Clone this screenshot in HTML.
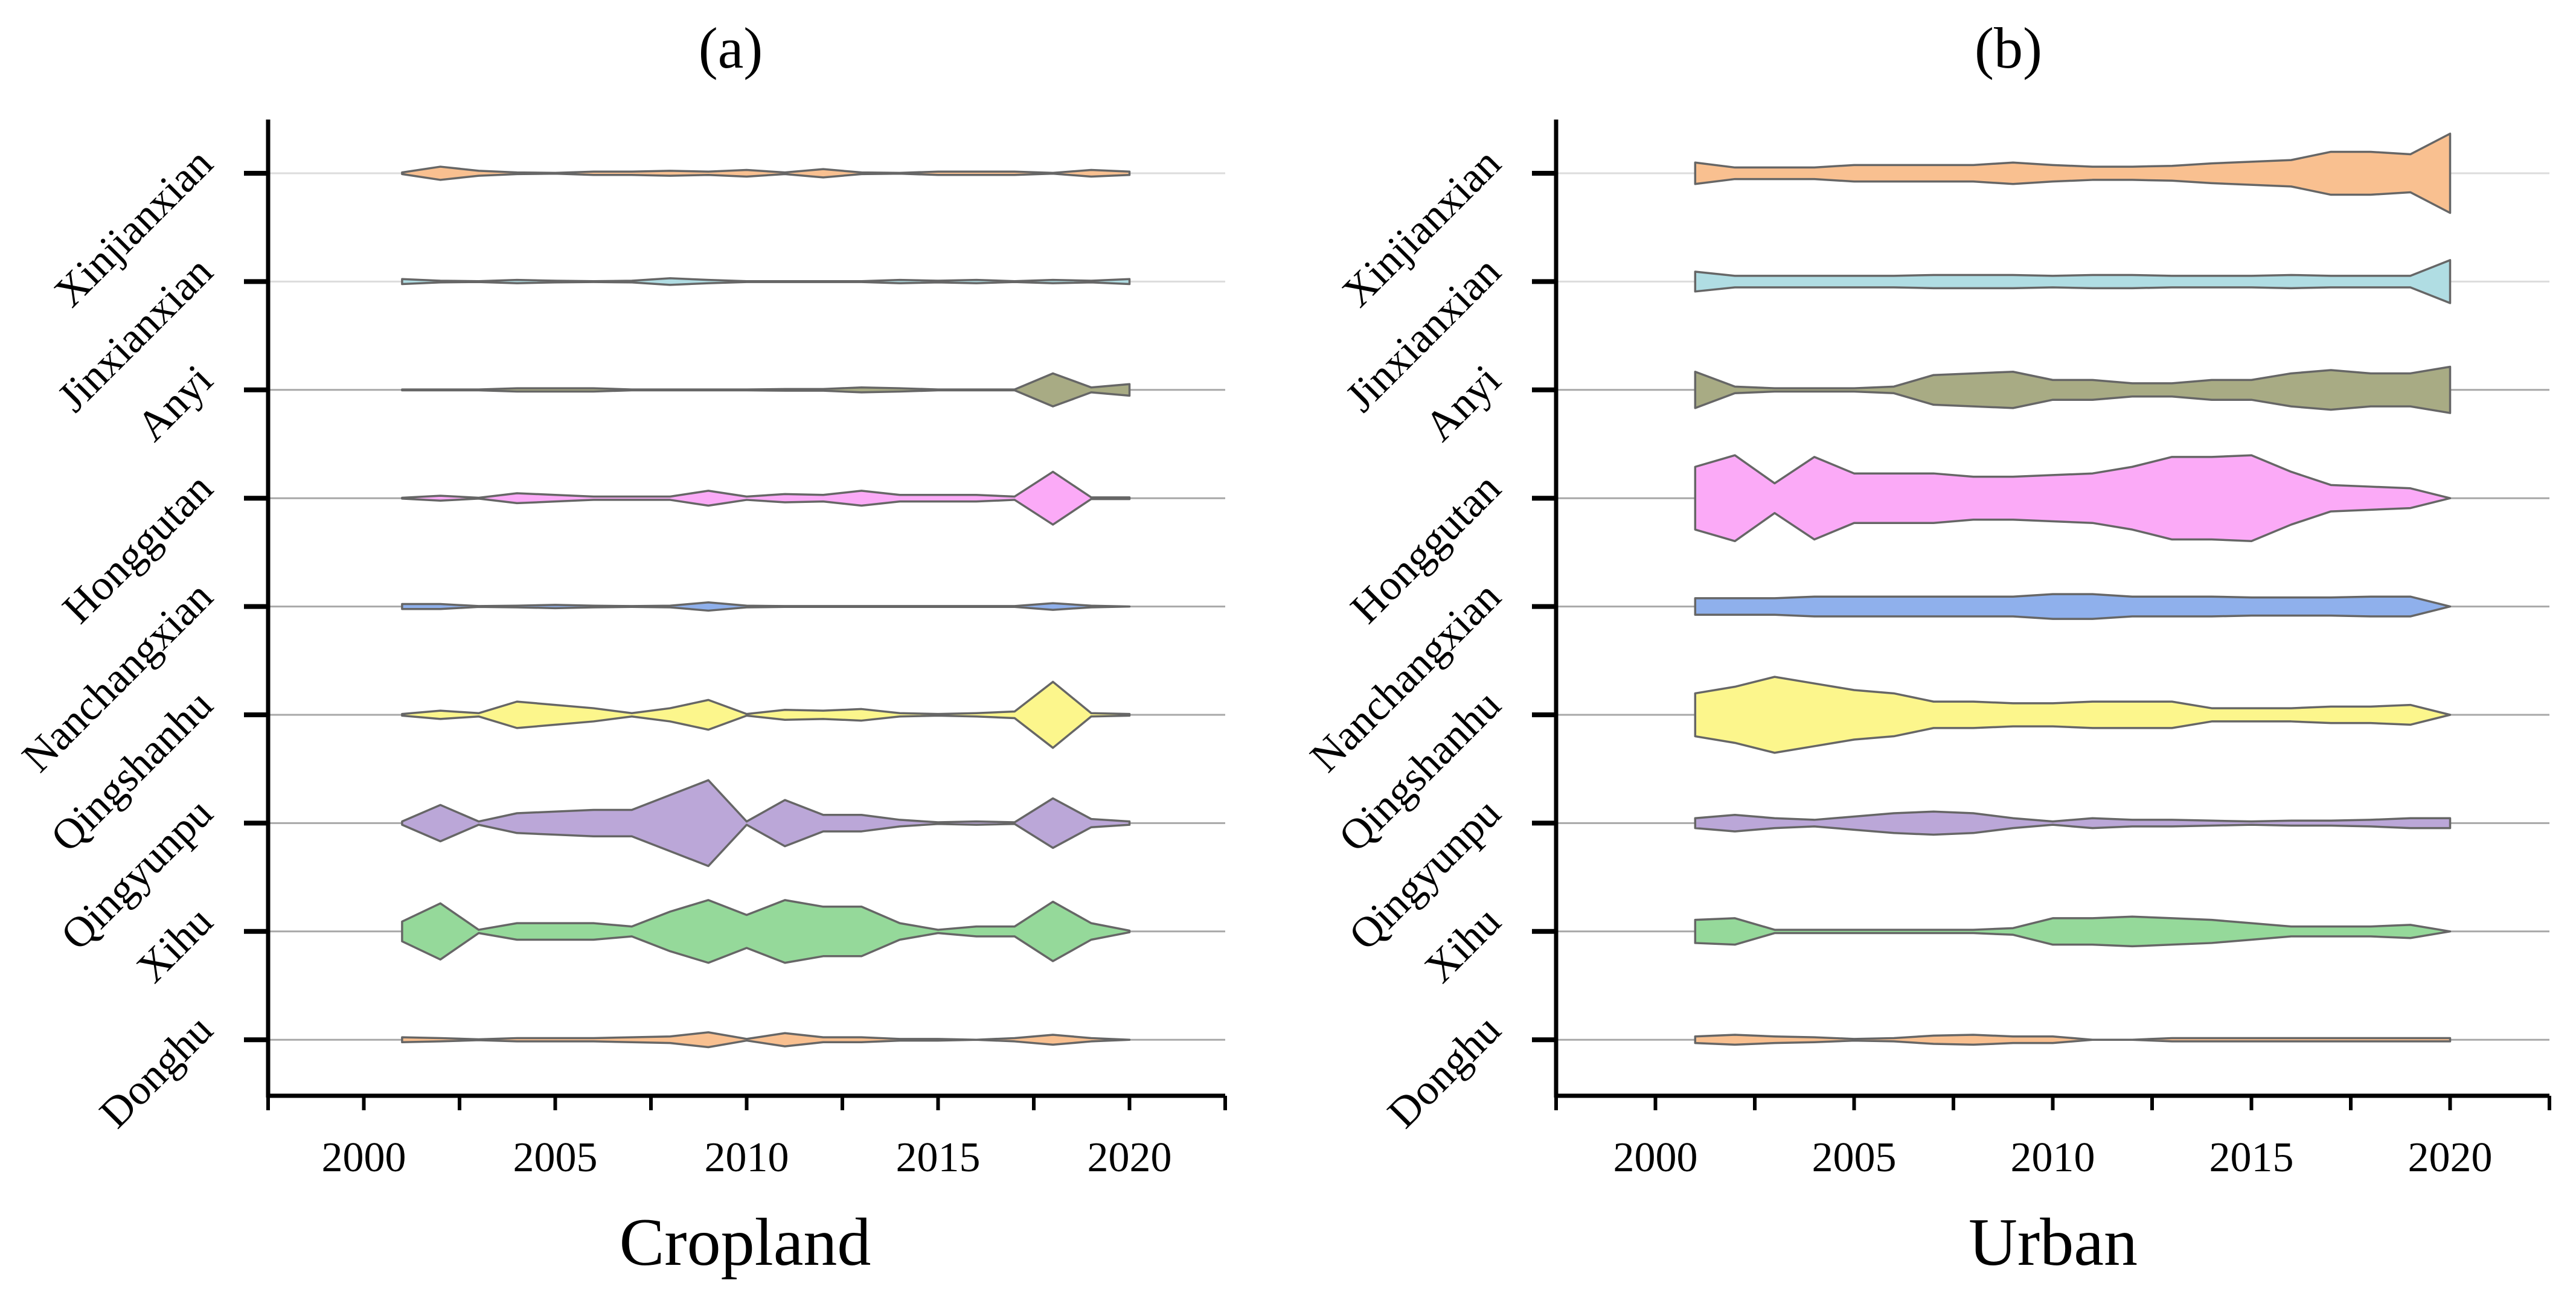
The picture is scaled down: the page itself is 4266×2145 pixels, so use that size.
<!DOCTYPE html>
<html><head><meta charset="utf-8">
<style>
html,body{margin:0;padding:0;background:#fff;}
svg{display:block;font-family:"Liberation Serif",serif;}
</style></head>
<body>
<svg id="chart" width="4266" height="2145" viewBox="0 0 4266 2145" xmlns="http://www.w3.org/2000/svg"></svg>
<script>
const categories = ["Xinjianxian","Jinxianxian","Anyi","Honggutan","Nanchangxian","Qingshanhu","Qingyunpu","Xihu","Donghu"];
const years = [2001,2002,2003,2004,2005,2006,2007,2008,2009,2010,2011,2012,2013,2014,2015,2016,2017,2018,2019,2020];
const xTickLabels = [2000,2005,2010,2015,2020];
const colors = ["#f9c090","#b0dde3","#a8ab84","#fbaaf7","#8fb0ec","#fcf68c","#bba7d8","#95d99a","#f9c090"];
// half-widths (relative units)
const croplandXinjianxian = [1,8,3,1,0.5,2,2,3,2,4,1,5,1,0.5,2,2,2,0.5,4,2];
const croplandJinxianxian = [3,1,0.5,2,1,0.5,1,4,2,0.5,0.5,0.5,0.5,2,1,2,0.5,2,1,3];
const croplandAnyi = [0.5,0.5,0.5,2,2,2,0.5,0.5,0.5,0.5,1,1,3,2,0.5,0.5,0.5,20,3,7];
const croplandHonggutan = [0.5,3,0.5,6,4,2,2,2,9,2,5,4,9,4,4,4,2,32,1,1];
const croplandNanchangxian = [3,3,0.5,1,2,1,0.5,1,5,1,0.5,0.5,0.5,0.5,0.5,0.5,0.5,4,1,0];
const croplandQingshanhu = [1,5,2,16,12,8,2,8,18,1,6,5,7,2,1,2,4,40,2,1];
const croplandQingyunpu = [2,22,2,12,14,16,16,34,52,2,28,10,10,4,1,2,1,30,5,2];
const croplandXihu = [12,34,2,10,10,10,6,24,38,20,38,30,30,10,2,6,6,36,10,1];
const croplandDonghu = [3,2,0.5,2,2,2,3,4,9,1,8,3,3,1,1,0,2,6,2,0];
const urbanXinjianxian = [13,7,7,7,10,10,10,10,13,10,8,8,9,12,14,16,26,26,23,48];
const urbanJinxianxian = [12,7,7,7,7,7,8,8,8,7,8,8,7,7,7,8,7,7,7,26];
const urbanAnyi = [22,4,2,2,2,4,18,20,22,12,12,8,8,12,12,20,24,20,20,28];
const urbanHonggutan = [38,52,18,50,30,30,30,26,26,28,30,38,50,50,52,32,16,14,12,0];
const urbanNanchangxian = [10,10,10,12,12,12,12,12,12,15,15,12,12,12,11,11,11,12,12,0];
const urbanQingshanhu = [26,34,46,38,30,26,16,16,14,14,16,16,16,8,8,8,10,10,12,0];
const urbanQingyunpu = [6,10,6,4,8,12,14,12,6,2,6,4,4,3,2,3,3,4,6,6];
const urbanXihu = [14,16,2,2,2,2,2,2,4,16,16,18,16,14,10,6,6,6,8,0];
const urbanDonghu = [4,6,4,3,1,2,5,6,4,4,0,0,2,2,2,2,2,2,2,2];

const cropland = [croplandXinjianxian,croplandJinxianxian,croplandAnyi,croplandHonggutan,croplandNanchangxian,croplandQingshanhu,croplandQingyunpu,croplandXihu,croplandDonghu];
const urban = [urbanXinjianxian,urbanJinxianxian,urbanAnyi,urbanHonggutan,urbanNanchangxian,urbanQingshanhu,urbanQingyunpu,urbanXihu,urbanDonghu];

const NS="http://www.w3.org/2000/svg";
const svg=document.getElementById('chart');
function mk(tag,attrs,parent){const e=document.createElementNS(NS,tag);for(const k in attrs)e.setAttribute(k,attrs[k]);(parent||svg).appendChild(e);return e;}

function panel(cfg){
  const g=mk('g',{});
  
  
  const x0=cfg.left,x1=cfg.right,yTop=198,yBot=1815;
  const xs=y=>x0+(y-1997.5)/25*(x1-x0);
  const rowY=i=>287+i*179.4;
  const w=v=>v*1.367;
  categories.forEach((c,i)=>{
    const l=mk('line',{x1:x0,x2:x1,y1:rowY(i),y2:rowY(i),stroke:i<2?'#dcdcdc':'#a8a8a8','stroke-width':3},g);
    
    
  });
  cfg.data.forEach((arr,i)=>{
    const cy=rowY(i);
    let top=[],bot=[];
    arr.forEach((v,j)=>{top.push(xs(years[j])+','+(cy-w(v)));bot.unshift(xs(years[j])+','+(cy+w(v)));});
    const p=mk('polygon',{points:top.concat(bot).join(' '),fill:colors[i],stroke:'#666','stroke-width':3.5,'stroke-linejoin':'round'},g);
    
    
  });
  const ya=mk('line',{x1:x0,x2:x0,y1:yTop,y2:yBot+3,stroke:'#000','stroke-width':7},g);
  
  
  const xa=mk('line',{x1:x0-3,x2:x1,y1:yBot,y2:yBot,stroke:'#000','stroke-width':7},g);
  
  
  categories.forEach((c,i)=>{
    const cy=rowY(i);
    mk('line',{x1:x0-40,x2:x0,y1:cy,y2:cy,stroke:'#000','stroke-width':8},g);
    const t=mk('text',{x:0,y:0,'font-size':71,'text-anchor':'end',transform:`translate(${x0-88},${cy-12}) rotate(-45)`},g);
    t.textContent=c;
    
    
  });
  for(let yv=1997.5;yv<=2022.51;yv+=2.5){
    mk('line',{x1:xs(yv),x2:xs(yv),y1:yBot,y2:yBot+24,stroke:'#000','stroke-width':6},g);
  }
  xTickLabels.forEach(v=>{
    const t=mk('text',{x:xs(v),y:1940,'font-size':70,'text-anchor':'middle'},g);
    t.textContent=v;
    
    
  });
  const tt=mk('text',{x:cfg.titleX,y:2095,'font-size':112,'text-anchor':'middle'},g);
  tt.textContent=cfg.xTitle;
  
  
  const pl=mk('text',{x:cfg.labelX,y:112,'font-size':96,'text-anchor':'middle'},g);
  pl.textContent=cfg.label;
  
  
}
panel({id:'cropland',left:444,right:2029,data:cropland,xTitle:'Cropland',titleX:1234,label:'(a)',labelX:1210});
panel({id:'urban',left:2577,right:4222,data:urban,xTitle:'Urban',titleX:3400,label:'(b)',labelX:3326});
</script>
</body></html>
